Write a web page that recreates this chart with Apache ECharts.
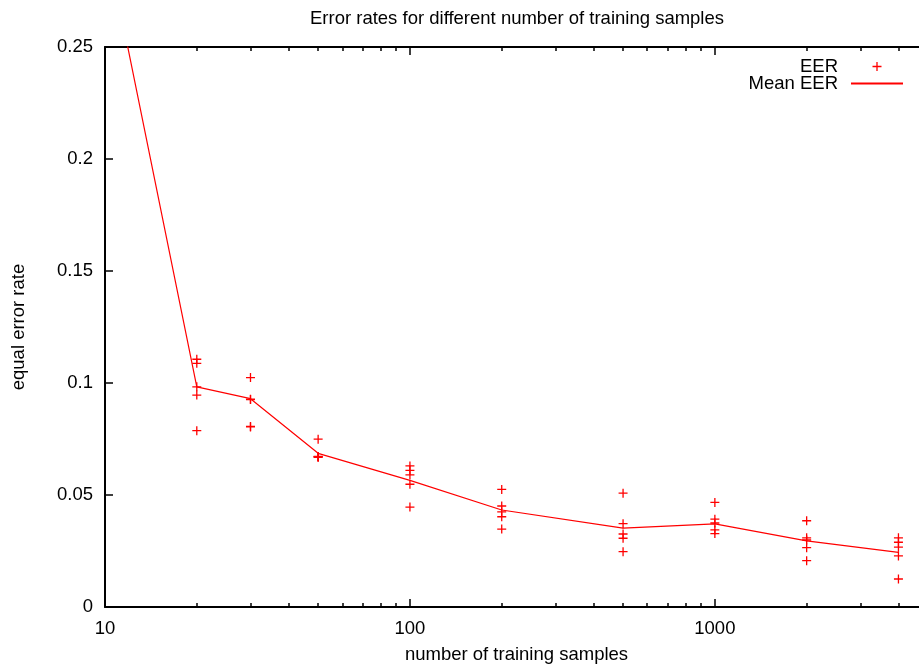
<!DOCTYPE html>
<html><head><meta charset="utf-8">
<script src="https://cdn.jsdelivr.net/npm/echarts@6/dist/echarts.min.js"></script>
<style>html,body{margin:0;padding:0;background:#fff}#c{width:919px;height:666px}</style>
</head><body><div id="c"></div>
<script>
// ---- data ----
const sampleSizes = [20, 30, 50, 100, 200, 500, 1000, 2000, 4000];
const eer20   = [0.1106, 0.1088, 0.0983, 0.0946, 0.0787];
const eer30   = [0.1024, 0.0928, 0.0926, 0.0806, 0.0804];
const eer50   = [0.0749, 0.0672, 0.0670, 0.0668, 0.0671];
const eer100  = [0.0630, 0.0610, 0.0590, 0.0548, 0.0446];
const eer200  = [0.0525, 0.0451, 0.0425, 0.0403, 0.0348];
const eer500  = [0.0508, 0.0372, 0.0326, 0.0307, 0.0247];
const eer1000 = [0.0467, 0.0392, 0.0375, 0.0344, 0.0328];
const eer2000 = [0.0385, 0.0309, 0.0299, 0.0265, 0.0207];
const eer4000 = [0.0309, 0.0289, 0.0267, 0.0228, 0.0125];
const eerGroups = [eer20, eer30, eer50, eer100, eer200, eer500, eer1000, eer2000, eer4000];

const meanX   = [10, 20, 30, 50, 100, 200, 500, 1000, 2000, 4000];
const meanEER = [0.300, 0.0983, 0.0930, 0.0686, 0.0565, 0.0433, 0.0352, 0.0371, 0.0295, 0.0244];

const xMajorTicks = [10, 100, 1000];
const xMinorTicks = [20, 30, 40, 50, 60, 70, 80, 90, 200, 300, 400, 500, 600, 700, 800, 900, 2000, 3000, 4000];

const titleText = 'Error rates for different number of training samples';
const xName = 'number of training samples';
const yName = 'equal error rate';

// ---- build ----
const FONT = "'Liberation Sans', Arial, Helvetica, sans-serif";
const FS = 18.5;
const RED = '#ff0000';
const NONE = 'rgba(0,0,0,0)';
const PLUS = 'path://M0,5L10,5M5,0L5,10';

const eerData = [];
sampleSizes.forEach((s, i) => eerGroups[i].forEach(v => eerData.push([s, v])));
const meanData = meanX.map((x, i) => [x, meanEER[i]]);

const blackLine = {color: '#000', width: 2};
const tickStyle = {color: '#000', width: 1.5};
const xBase = {type: 'log', logBase: 10, min: 10, max: 5000, splitLine: {show: false}, splitArea: {show: false}};

const chart = echarts.init(document.getElementById('c'), null, {renderer: 'canvas'});
chart.setOption({
  animation: false,
  backgroundColor: '#fff',
  textStyle: {fontFamily: FONT},
  title: {
    text: titleText, left: 517, top: 9, padding: 0, textAlign: 'center',
    textStyle: {fontFamily: FONT, fontSize: FS, fontWeight: 'normal', color: '#000'}
  },
  grid: {left: 105, top: 47, bottom: 59, right: -9, containLabel: false, outerBoundsMode: 'none'},
  legend: {
    orient: 'vertical', right: 15, top: 57, padding: 0, align: 'right',
    itemWidth: 52, itemHeight: 9, itemGap: -2,
    textStyle: {fontFamily: FONT, fontSize: FS, color: '#000', lineHeight: 17, padding: [0, 8, 0, 0]},
    data: [
      {name: 'EER', itemStyle: {color: RED, borderColor: RED, borderWidth: 1.3}},
      {name: 'Mean EER'}
    ]
  },
  xAxis: [
    Object.assign({}, xBase, {
      position: 'bottom',
      axisLine: {show: true, onZero: false, lineStyle: blackLine},
      axisTick: {show: true, inside: true, length: 8, customValues: xMajorTicks, lineStyle: tickStyle},
      axisLabel: {customValues: xMajorTicks, color: '#000', fontFamily: FONT, fontSize: FS, margin: 12,
                  formatter: v => String(v)},
      name: xName, nameLocation: 'middle', nameGap: 38,
      nameTextStyle: {fontFamily: FONT, fontSize: FS, color: '#000'}
    }),
    Object.assign({}, xBase, {
      position: 'bottom',
      axisLine: {show: false, onZero: false},
      axisTick: {show: true, inside: true, length: 4, customValues: xMinorTicks, lineStyle: tickStyle},
      axisLabel: {show: false}
    }),
    Object.assign({}, xBase, {
      position: 'top',
      axisLine: {show: true, onZero: false, lineStyle: blackLine},
      axisTick: {show: true, inside: true, length: 8, customValues: xMajorTicks, lineStyle: tickStyle},
      axisLabel: {show: false}
    }),
    Object.assign({}, xBase, {
      position: 'top',
      axisLine: {show: false, onZero: false},
      axisTick: {show: true, inside: true, length: 4, customValues: xMinorTicks, lineStyle: tickStyle},
      axisLabel: {show: false}
    })
  ],
  yAxis: [{
    type: 'value', min: 0, max: 0.25, interval: 0.05,
    axisLine: {show: true, onZero: false, lineStyle: blackLine},
    axisTick: {show: true, inside: true, length: 8, lineStyle: tickStyle},
    axisLabel: {color: '#000', fontFamily: FONT, fontSize: FS, margin: 12},
    splitLine: {show: false},
    name: yName, nameLocation: 'middle', nameGap: 77, nameRotate: 90,
    nameTextStyle: {fontFamily: FONT, fontSize: FS, color: '#000'}
  }],
  series: [
    {
      name: 'EER', type: 'scatter', xAxisIndex: 0, yAxisIndex: 0,
      symbol: PLUS, symbolSize: 9,
      itemStyle: {color: RED, borderColor: RED, borderWidth: 1.3, opacity: 1},
      emphasis: {disabled: true},
      data: eerData
    },
    {
      name: 'Mean EER', type: 'line', xAxisIndex: 0, yAxisIndex: 0,
      symbol: 'none', showSymbol: false, clip: true,
      lineStyle: {color: RED, width: 1.2},
      itemStyle: {color: NONE, borderColor: NONE, borderWidth: 0},
      emphasis: {disabled: true},
      data: meanData
    }
  ]
});
</script>
</body></html>
